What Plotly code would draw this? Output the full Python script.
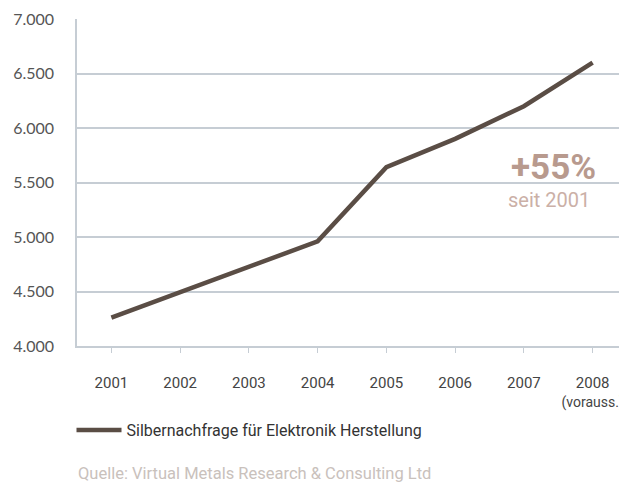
import plotly.graph_objects as go

years = ["2001", "2002", "2003", "2004", "2005", "2006", "2007", "2008"]
year_labels = ["2001", "2002", "2003", "2004", "2005", "2006", "2007",
               "2008<br><span style='font-size:14px'>(vorauss.)</span>"]
demand = [4260, 4490, 4720, 4960, 5640, 5900, 6200, 6600]
y_ticks = [4000, 4500, 5000, 5500, 6000, 6500, 7000]
y_tick_labels = ["4.000", "4.500", "5.000", "5.500", "6.000", "6.500", "7.000"]
series_name = "Silbernachfrage für Elektronik Herstellung"
source_text = "Quelle: Virtual Metals Research & Consulting Ltd"
growth_text = "+55%"
growth_sub = "seit 2001"

grid_col = "#c6cdd4"

fig = go.Figure()
fig.add_trace(go.Scatter(
    x=years, y=demand, mode="lines", name=series_name,
    line=dict(color="#5a4d45", width=4.5),
))

# page body has an 8px margin, so the figure is sized/positioned to compensate
fig.update_layout(
    width=619, height=474,
    margin=dict(l=69, r=0, t=11, b=136, autoexpand=False),
    paper_bgcolor="white", plot_bgcolor="white",
    font=dict(family="Lato, 'Open Sans', sans-serif", color="#555555", size=15),
    showlegend=True,
    legend=dict(
        orientation="h", x=-0.01, y=-0.257, xanchor="left", yanchor="middle",
        itemwidth=45,
        font=dict(family="Roboto, sans-serif", size=16, color="#333333"),
        bgcolor="rgba(0,0,0,0)",
    ),
    xaxis=dict(
        type="category", range=[-0.5, 7.5], automargin=False,
        tickvals=years, ticktext=year_labels,
        showgrid=False, showline=True, linecolor=grid_col, linewidth=1.5,
        ticks="outside", ticklen=5, tickcolor=grid_col, tickwidth=1,
        ticklabelstandoff=17,
        tickfont=dict(family="Roboto, sans-serif", size=15, color="#444444"),
        zeroline=False,
    ),
    yaxis=dict(
        range=[4000, 7000], tickvals=y_ticks, ticktext=y_tick_labels, automargin=False,
        showgrid=True, gridcolor=grid_col, gridwidth=1.5,
        showline=True, linecolor=grid_col, linewidth=1.5,
        ticks="", ticklabelstandoff=18,
        tickfont=dict(family="Lato, sans-serif", size=16, color="#555555"),
        zeroline=False,
    ),
    annotations=[
        dict(x=7, y=5640, xref="x", yref="y", text="<b>" + growth_text + "</b>", showarrow=False,
             xanchor="right", yanchor="middle", xshift=5,
             font=dict(family="Roboto, sans-serif", size=35, color="#b89a8e")),
        dict(x=7, y=5340, xref="x", yref="y", text=growth_sub, showarrow=False,
             xanchor="right", yanchor="middle", xshift=-1,
             font=dict(family="Roboto, sans-serif", size=20, color="#cbb0a7")),
        dict(x=0.0, y=-0.391, xref="paper", yref="paper", text=source_text, showarrow=False,
             xanchor="left", yanchor="middle", xshift=-1,
             font=dict(family="Roboto, sans-serif", size=16.5, color="#c9c1bc")),
    ],
)

fig.write_html("out.html")
